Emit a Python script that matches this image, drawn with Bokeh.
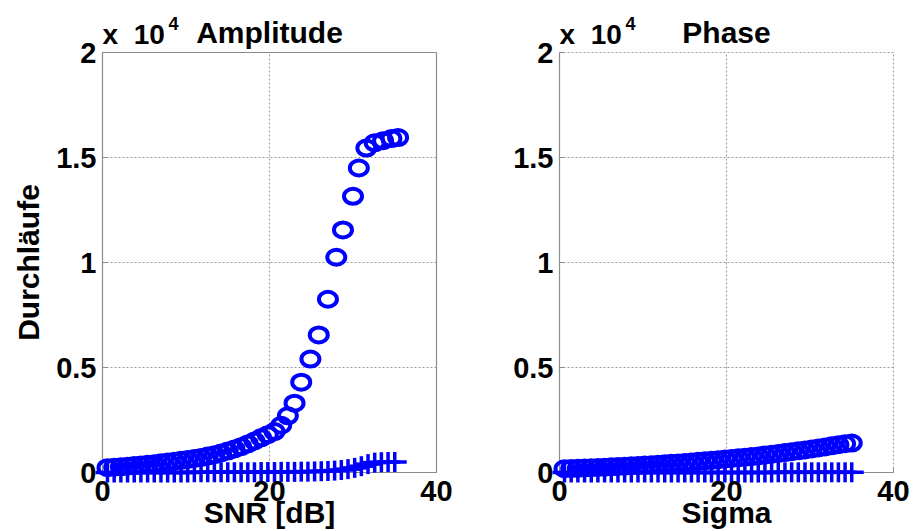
import numpy as np
from bokeh.plotting import figure
from bokeh.models import Range1d, Label, ColumnDataSource
from bokeh.layouts import row
from bokeh.embed import file_html
from bokeh.resources import INLINE

# ---------------- data ----------------
x_ticks = [0, 20, 40]
y_ticks = [0, 5000, 10000, 15000, 20000]
y_tick_labels = ["0", "0.5", "1", "1.5", "2"]

amp_circ_x = [0.6, 1.4, 2.2, 3.0, 3.8, 4.6, 5.4, 6.2, 7.0, 7.8, 8.6, 9.4, 10.2, 11.0,
              11.8, 12.6, 13.4, 14.2, 15.0, 15.8, 16.6, 17.4, 18.2, 19.0, 19.8, 20.6,
              21.4, 22.2, 23.0, 23.8, 24.9, 25.9, 27.0, 28.0, 28.8, 30.0, 30.7, 31.6,
              32.6, 33.6, 34.6, 35.4]
amp_circ_y = [230, 250, 270, 300, 330, 360, 390, 420, 460, 500, 540, 580, 620, 670,
              720, 780, 850, 930, 1020, 1120, 1230, 1360, 1500, 1650, 1800, 1950,
              2250, 2700, 3300, 4300, 5400, 6550, 8250, 10250, 11550, 13150, 14500, 15450,
              15700, 15800, 15900, 15950]

amp_plus_x = [0.6, 1.4, 2.2, 3.0, 3.8, 4.6, 5.4, 6.2, 7.0, 7.8, 8.6, 9.4, 10.2, 11.0,
              11.8, 12.6, 13.4, 14.2, 15.0, 15.8, 16.6, 17.4, 18.2, 19.0, 19.8, 20.6,
              21.4, 22.2, 23.0, 23.8, 24.6, 25.4, 26.2, 27.0, 27.8, 28.6, 29.4, 30.2,
              31.0, 31.8, 32.6, 33.4, 34.2, 35.0]
amp_plus_y = [0, 0, 0, 0, 0, 0, 0, 0, 0, 0, 0, 0, 0, 10,
              10, 10, 10, 10, 10, 10, 10, 10, 10, 20, 20, 20,
              30, 30, 30, 40, 40, 50, 60, 70, 90, 120, 160, 220,
              300, 400, 470, 490, 500, 500]

pha_circ_x = [0.6, 1.4, 2.2, 3.0, 3.8, 4.6, 5.4, 6.2, 7.0, 7.8, 8.6, 9.4, 10.2, 11.0,
              11.8, 12.6, 13.4, 14.2, 15.0, 15.8, 16.6, 17.4, 18.2, 19.0, 19.8, 20.6,
              21.4, 22.2, 23.0, 23.8, 24.6, 25.4, 26.2, 27.0, 27.8, 28.6, 29.4, 30.2,
              31.0, 31.8, 32.6, 33.4, 34.2, 35.0]
pha_circ_y = [180, 190, 200, 215, 230, 240, 255, 270, 285, 300, 320, 335, 355, 375,
              395, 415, 435, 455, 480, 505, 530, 555, 580, 610, 640, 670,
              700, 730, 760, 790, 830, 870, 910, 950, 990, 1030, 1070, 1120,
              1170, 1220, 1270, 1320, 1370, 1400]

pha_plus_x = [0.6, 1.4, 2.2, 3.0, 3.8, 4.6, 5.4, 6.2, 7.0, 7.8, 8.6, 9.4, 10.2, 11.0,
              11.8, 12.6, 13.4, 14.2, 15.0, 15.8, 16.6, 17.4, 18.2, 19.0, 19.8, 20.6,
              21.4, 22.2, 23.0, 23.8, 24.6, 25.4, 26.2, 27.0, 27.8, 28.6, 29.4, 30.2,
              31.0, 31.8, 32.6, 33.4, 34.2, 35.0]
pha_plus_y = [0, 0, 0, 0, 0, 0, 0, 0, 0, 0, 0, 0, 0, 0,
              0, 0, 0, 0, 0, 0, 0, 0, 0, 0, 0, 0,
              0, 0, 0, 0, 0, 0, 10, 10, 10, 10, 10, 10,
              10, 10, 10, 10, 10, 10]

# ---------------- styling / geometry ----------------
BLUE = "#0000ff"
FONT = "Liberation Sans"
AXIS_COL = "#8c8c8c"
GRID_COL = "#9a9a9a"
FIG_W = 458
FIG_H = 531
AX_W = 334.0            # pixel width of the 0..40 axis
PXX = AX_W / 40.0       # px per x unit
PXY = 420.0 / 20000.0   # px per y unit
AX_TOP = 52.0           # canvas pixel of y = 20000
AX_BOT = 472.0          # canvas pixel of y = 0


def make_panel(cx, cy, px, py, title, xlabel, ylabel, ax_left, boxed):
    x0 = -ax_left / PXX
    x1 = (FIG_W - ax_left) / PXX
    y1 = 20000 + AX_TOP / PXY
    y0 = -(FIG_H - AX_BOT) / PXY

    def xd(cpx):  # canvas px -> data x
        return (cpx - ax_left) / PXX

    def yd(cpy):  # canvas px -> data y
        return (AX_BOT - cpy) / PXY

    p = figure(width=FIG_W, height=FIG_H,
               x_range=Range1d(x0, x1), y_range=Range1d(y0, y1),
               output_backend="svg", toolbar_location=None,
               x_axis_location=None, y_axis_location=None,
               min_border=0)
    p.outline_line_color = None
    p.grid.visible = False
    p.background_fill_color = "white"
    p.border_fill_color = "white"

    # dotted grid
    gx = [t for t in x_ticks if 0 < t < 40 or (t == 40 and not boxed)]
    gy = [t for t in y_ticks if 0 < t < 20000 or (t == 20000 and not boxed)]
    gsrc = ColumnDataSource(dict(
        x0=gx + [0] * len(gy), x1=gx + [40] * len(gy),
        y0=[0] * len(gx) + gy, y1=[20000] * len(gx) + gy))
    p.segment(x0="x0", y0="y0", x1="x1", y1="y1", source=gsrc,
              line_color=GRID_COL, line_width=1, line_dash="2 2")

    # box
    bx0, by0, bx1, by1 = [0, 0], [0, 0], [40, 0], [0, 20000]
    if boxed:
        bx0 += [40, 0]; by0 += [0, 20000]; bx1 += [40, 40]; by1 += [20000, 20000]
    p.segment(x0=bx0, y0=by0, x1=bx1, y1=by1, line_color=AXIS_COL, line_width=1.2)

    # inward tick marks
    tl_x = 5 / PXX
    tl_y = 5 / PXY
    p.segment(x0=[0] * len(y_ticks), y0=y_ticks, x1=[tl_x] * len(y_ticks), y1=y_ticks,
              line_color=AXIS_COL, line_width=1)
    p.segment(x0=x_ticks, y0=[0] * len(x_ticks), x1=x_ticks, y1=[tl_y] * len(x_ticks),
              line_color=AXIS_COL, line_width=1)

    # data marks
    p.ellipse(x=cx, y=cy, width=18, height=15, width_units="screen",
              height_units="screen", fill_color=None, line_color=BLUE, line_width=4)
    p.scatter(x=px, y=py, marker="dash", size=24, line_color=BLUE, line_width=3.5)
    p.scatter(x=px, y=py, marker="dash", size=20, angle=np.pi / 2,
              line_color=BLUE, line_width=3.5)

    def lab(x, y, text, size, align="center", angle=0.0):
        p.add_layout(Label(x=x, y=y, text=text, text_font=FONT,
                           text_font_size=size, text_font_style="bold",
                           text_color="black", text_align=align,
                           text_baseline="middle", angle=angle))

    # y tick labels
    for t, s in zip(y_ticks, y_tick_labels):
        lab(xd(ax_left - 6), t, s, "29px", align="right")
    # x tick labels
    for t in x_ticks:
        lab(t, yd(490), str(t), "29px")
    lab(20, yd(32), title, "30px")
    lab(xd(ax_left), yd(34), "x\u00a0\u00a010", "28px", align="left")
    lab(xd(ax_left + 66), yd(23), "4", "18px", align="left")
    lab(20, yd(512), xlabel, "30px")
    if ylabel:
        lab(xd(28), 10000, ylabel, "30px", angle=np.pi / 2)
    return p


p1 = make_panel(amp_circ_x, amp_circ_y, amp_plus_x, amp_plus_y,
                "Amplitude", "SNR [dB]", "Durchläufe", 102, True)
p2 = make_panel(pha_circ_x, pha_circ_y, pha_plus_x, pha_plus_y,
                "Phase", "Sigma", None, 559 - FIG_W, False)

layout = row(p1, p2)
open("out.html", "w").write(file_html(layout, INLINE))
